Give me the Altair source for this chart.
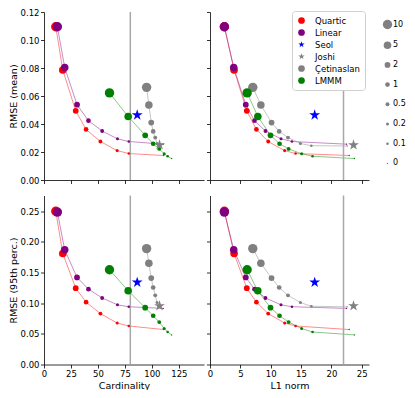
import altair as alt
import pandas as pd

# ---- data ----
size_values = [10, 5, 2, 1, 0.5, 0.2, 0.1, 0]

STAR = ("M0,-1L0.2245,-0.309L0.9511,-0.309L0.3633,0.118L0.5878,0.809L0,0.382"
        "L-0.5878,0.809L-0.3633,0.118L-0.9511,-0.309L-0.2245,-0.309Z")

methods = ["Quartic", "Linear", "Seol", "Joshi", "Çetinaslan", "LMMM"]
method_colors = ["#ff0000", "#800080", "#0000ff", "#808080", "#808080", "#008000"]
method_shapes = ["circle", "circle", STAR, STAR, "circle", "circle"]

quartic_card = [10.9, 17.4, 29.4, 39.0, 52.3, 67.8, 78.6, 110.9]
quartic_l1 = [2.37, 3.97, 6.06, 7.65, 9.59, 12.3, 14.1, 22.95]
quartic_mean = [0.1095, 0.0786, 0.0494, 0.0361, 0.0275, 0.0210, 0.0189, 0.0175]
quartic_p95 = [0.250, 0.181, 0.1245, 0.1016, 0.083, 0.0677, 0.0628, 0.057]

linear_card = [12.4, 19.2, 30.6, 41.2, 53.9, 68.1, 78.6, 110.5]
linear_l1 = [2.37, 3.91, 5.9, 7.33, 9.14, 11.7, 13.5, 22.5]
linear_mean = [0.1095, 0.0804, 0.0538, 0.0424, 0.0350, 0.0294, 0.0275, 0.0256]
linear_p95 = [0.2485, 0.187, 0.142, 0.1229, 0.1085, 0.0973, 0.0942, 0.0915]

cetin_card = [95.1, 97.2, 99.4, 101.2, 103.1, 104.8, 106.2, 107.3]
cetin_l1 = [7.05, 8.38, 10.14, 11.4, 12.85, 14.9, 16.7, 22.6]
cetin_mean = [0.0662, 0.0536, 0.041, 0.0347, 0.0303, 0.0261, 0.0245, 0.0243]
cetin_p95 = [0.189, 0.165, 0.141, 0.1256, 0.1128, 0.101, 0.095, 0.094]

lmmm_card = [60.7, 78.0, 93.8, 101.2, 106.8, 111.4, 114.6, 118.3]
lmmm_l1 = [6.12, 7.88, 9.97, 11.46, 12.95, 15.1, 16.9, 23.8]
lmmm_mean = [0.0622, 0.0454, 0.0319, 0.0259, 0.0222, 0.0187, 0.0170, 0.0153]
lmmm_p95 = [0.1545, 0.1203, 0.0926, 0.0795, 0.0692, 0.0587, 0.0530, 0.0483]

star_methods = ["Seol", "Joshi"]
star_card = [86.4, 107.1]
star_l1 = [17.25, 23.65]
star_mean = [0.0464, 0.0250]
star_p95 = [0.134, 0.0955]

card_limit = 80
l1_limit = 22

# ---- tables ----
series = [
    ("Quartic", quartic_card, quartic_l1, quartic_mean, quartic_p95),
    ("Linear", linear_card, linear_l1, linear_mean, linear_p95),
    ("Çetinaslan", cetin_card, cetin_l1, cetin_mean, cetin_p95),
    ("LMMM", lmmm_card, lmmm_l1, lmmm_mean, lmmm_p95),
]
line_colors = {"Quartic": "#ff0000", "Linear": "#800080", "Çetinaslan": "#808080", "LMMM": "#008000"}
rows = []
for m, c, l, mn, p in series:
    for i in range(len(c)):
        rows.append(dict(method=m, s=size_values[i], idx=i, card=c[i], l1=l[i], mean=mn[i], p95=p[i]))
df = pd.DataFrame(rows)
stars = pd.DataFrame(dict(method=star_methods, card=star_card, l1=star_l1, mean=star_mean, p95=star_p95))
limits = pd.DataFrame(dict(card=[card_limit], l1=[l1_limit]))

FONT = "DejaVu Sans"

color_scale = alt.Scale(domain=methods, range=method_colors)
shape_scale = alt.Scale(domain=methods, range=method_shapes)
size_scale = alt.Scale(type="pow", exponent=0.63, domain=[0, 10], range=[2, 88])

leg = alt.Legend(orient="none", legendX=248, legendY=-1, title=None, fillColor="white",
                 strokeColor="#d0d0d0", cornerRadius=3, padding=5, symbolSize=45,
                 rowPadding=3, labelOffset=9, labelFontSize=8.5, labelFont=FONT)
size_leg = alt.Legend(orient="none", legendX=338.5, legendY=7.5, title=None, rowPadding=11.7,
                      values=size_values, format="~r",
                      symbolFillColor="#808080", symbolStrokeWidth=0, labelFontSize=8,
                      labelFont=FONT, labelOffset=0.5)


def panel(xfield, yfield, xdom, xvals, ydom, yvals, show_xlabels, show_ylabels, xtitle, ytitle, h, w):
    xaxis = alt.Axis(values=xvals, labels=show_xlabels, title=xtitle if show_xlabels else None,
                     labelOverlap=False, labelFlush=False)
    yaxis = alt.Axis(values=yvals, labels=show_ylabels, title=ytitle if show_ylabels else None,
                     format=".2f", labelOverlap=False)
    x = alt.X(f"{xfield}:Q", scale=alt.Scale(domain=xdom, nice=False, zero=False), axis=xaxis)
    y = alt.Y(f"{yfield}:Q", scale=alt.Scale(domain=ydom, nice=False, zero=False), axis=yaxis)
    base = alt.Chart(df)
    rule = alt.Chart(limits).mark_rule(color="#a8a8a8", strokeWidth=1.5).encode(x=x)
    lines = [
        base.transform_filter(alt.datum.method == m).mark_line(
            strokeWidth=0.9, opacity=0.5, color=col).encode(x=x, y=y, order="idx:Q")
        for m, col in line_colors.items()
    ]
    pts = base.mark_point(filled=True, opacity=1).encode(
        x=x, y=y,
        color=alt.Color("method:N", scale=color_scale, legend=leg),
        shape=alt.Shape("method:N", scale=shape_scale, legend=leg),
        size=alt.Size("s:Q", scale=size_scale, legend=size_leg),
    )
    st = alt.Chart(stars).mark_point(filled=True, opacity=1, size=130).encode(
        x=x, y=y,
        color=alt.Color("method:N", scale=color_scale, legend=leg),
        shape=alt.Shape("method:N", scale=shape_scale, legend=leg),
    )
    return alt.layer(*lines, rule, pts, st).properties(width=w, height=h)


card_vals = [0, 25, 50, 75, 100, 125]
l1_vals = [0, 5, 10, 15, 20, 25]
mean_vals = [0, 0.02, 0.04, 0.06, 0.08, 0.10, 0.12]
p95_vals = [0, 0.05, 0.10, 0.15, 0.20, 0.25]
card_dom = [0, 148.3]
l1_dom = [0, 26.2]

tl = panel("card", "mean", card_dom, card_vals, [0, 0.12], mean_vals, False, True, "Cardinality", "RMSE (mean)", 168, 160)
tr = panel("l1", "mean", l1_dom, l1_vals, [0, 0.12], mean_vals, False, False, "L1 norm", "RMSE (mean)", 168, 159)
bl = panel("card", "p95", card_dom, card_vals, [0, 0.2756], p95_vals, True, True, "Cardinality", "RMSE (95th perc.)", 169, 160)
br = panel("l1", "p95", l1_dom, l1_vals, [0, 0.2756], p95_vals, True, False, "L1 norm", "RMSE (95th perc.)", 169, 159)

top = alt.hconcat(tl, tr, spacing=2)
bottom = alt.hconcat(bl, br, spacing=2)

chart = alt.vconcat(top, bottom, spacing=9.5).resolve_scale(
    x="independent", y="independent"
).properties(padding=0).configure_view(strokeWidth=0).configure_axis(
    grid=False, domainColor="black", domainWidth=0.8, tickColor="black", tickWidth=0.8,
    tickSize=3.5, labelFont=FONT, labelFontSize=8.5, labelColor="black", labelPadding=1.5,
    labelOverlap=False, labelFlush=False,
    titleFont=FONT, titleFontSize=9.5, titleFontWeight="normal", titleColor="black", titlePadding=2,
)

chart.save("out.html", embed_options={"renderer": "svg", "actions": False})
